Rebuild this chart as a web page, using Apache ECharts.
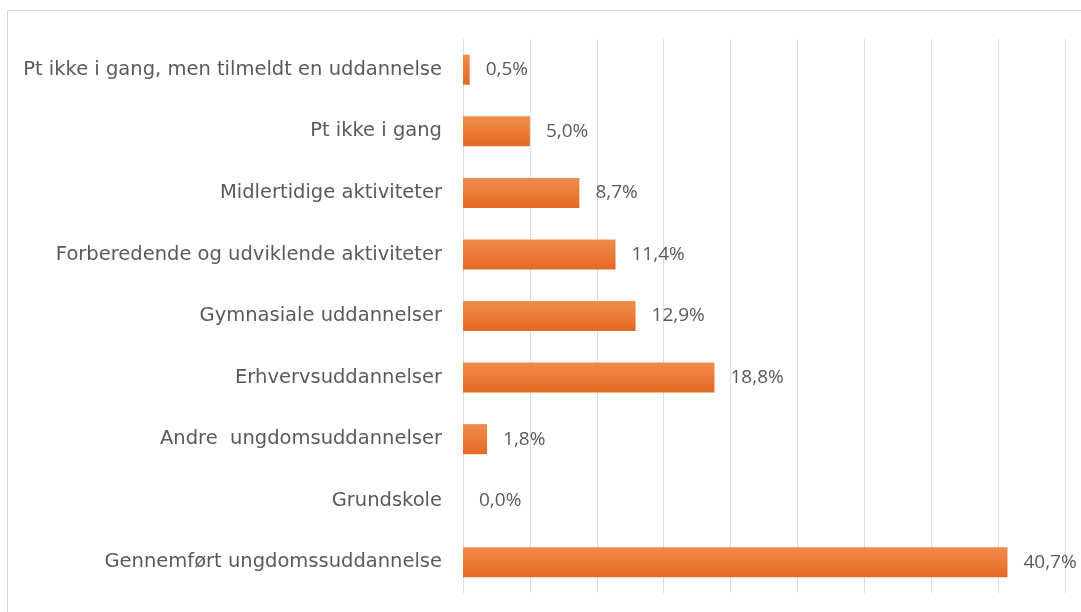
<!DOCTYPE html>
<html>
<head>
<meta charset="utf-8">
<script src="https://cdn.jsdelivr.net/npm/echarts@6/dist/echarts.min.js"></script>
<style>
html,body{margin:0;padding:0;background:#fff;}
#chart{width:1081px;height:612px;}
</style>
</head>
<body>
<div id="chart"></div>
<script>
const categories = [
  "Pt ikke i gang, men tilmeldt en uddannelse",
  "Pt ikke i gang",
  "Midlertidige aktiviteter",
  "Forberedende og udviklende aktiviteter",
  "Gymnasiale uddannelser",
  "Erhvervsuddannelser",
  "Andre  ungdomsuddannelser",
  "Grundskole",
  "Gennemført ungdomssuddannelse"
];
const values = [0.5, 5.0, 8.7, 11.4, 12.9, 18.8, 1.8, 0.0, 40.7];

const chart = echarts.init(document.getElementById('chart'));
const font = "'Open Sans', sans-serif";
chart.setOption({
  animation: false,
  backgroundColor: '#ffffff',
  graphic: [{
    type: 'rect',
    shape: { x: 7.5, y: 10.5, width: 1200, height: 800 },
    style: { fill: 'none', stroke: '#d9d9d9', lineWidth: 1 },
    silent: true
  }],
  grid: { left: 463, right: 16, top: 39, bottom: 19, containLabel: false },
  xAxis: {
    type: 'value',
    min: 0, max: 45, interval: 5,
    axisLabel: { show: false },
    axisLine: { show: false },
    axisTick: { show: false },
    splitLine: { show: true, lineStyle: { color: '#dadde2', width: 1 } }
  },
  yAxis: {
    type: 'category',
    data: categories,
    inverse: true,
    axisLine: { show: false },
    axisTick: { show: false },
    axisLabel: { color: '#5a5a5a', fontFamily: "'DejaVu Sans', sans-serif", fontSize: 19.5, margin: 21 }
  },
  series: [{
    type: 'bar',
    data: values,
    barWidth: 30,
    itemStyle: {
      color: new echarts.graphic.LinearGradient(0, 0, 0, 1, [
        { offset: 0, color: '#f08c4e' },
        { offset: 1, color: '#e46a22' }
      ])
    },
    label: {
      show: true,
      position: 'right',
      distance: 16,
      color: '#5a5a5a',
      fontFamily: font,
      fontSize: 19,
      formatter: p => p.value.toFixed(1).replace('.', ',') + '%'
    }
  }]
});
</script>
</body>
</html>
